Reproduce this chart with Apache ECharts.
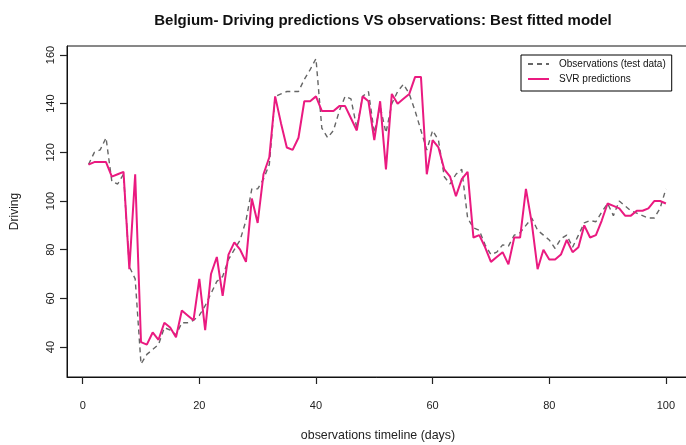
<!DOCTYPE html>
<html>
<head>
<meta charset="utf-8">
<script src="https://cdn.jsdelivr.net/npm/echarts@6/dist/echarts.min.js"></script>
<style>
html,body{margin:0;padding:0;background:#fff;}
#chart{width:686px;height:445px;}
</style>
</head>
<body>
<div id="chart"></div>
<script>
const days = [1,2,3,4,5,6,7,8,9,10,11,12,13,14,15,16,17,18,19,20,21,22,23,24,25,26,27,28,29,30,31,32,33,34,35,36,37,38,39,40,41,42,43,44,45,46,47,48,49,50,51,52,53,54,55,56,57,58,59,60,61,62,63,64,65,66,67,68,69,70,71,72,73,74,75,76,77,78,79,80,81,82,83,84,85,86,87,88,89,90,91,92,93,94,95,96,97,98,99,100];
const observations = [
 115,120,121,126,108,107,111,73,68,33,
 37,39,41,48,47,45,50,50,51,53,
 57,62,67,69,76,80,84,92,105,105,
 109,115,143,144,145,145,145,150,154,158.5,
 130,126,129,137,143,142,130,143,145,128,
 139,128,140,145,148,144,137,129,121,129,
 125,110,107,111,113,93,89,88,82,78,
 79,82,81.5,86,87,90,93,88,86,84,
 80.5,84.5,86,81,86,91,92,91.5,95.5,99,
 94,100,98,96,95,94,93,93,97,105
];
const svrPredictions = [
 115,116,116,116,110,111,112,72,111,42,
 41,46,43,50,48,44,55,53,51,68,
 47,70,77,61,78,83,80,75,101,91,
 111,118,143,132,122,121,126,141,141,143,
 137,137,137,139,139,134,129,143,141,125,
 141,113,144,140,142,144,151,151,111,125,
 122,113,110,102,109,112,85,86,81,75,
 77,79,74,85,85,105,91,72,80,76,
 76,78,84,79,81,90,85,86,92,99,
 98,97,94,94,96,96,97,100,100,99
];
const xTicks = [0,20,40,60,80,100];
const yTicks = [40,60,80,100,120,140,160];
const seriesNames = ['Observations (test data)', 'SVR predictions'];
const titleText = 'Belgium- Driving predictions VS observations: Best fitted model';
const xName = 'observations timeline (days)';
const yName = 'Driving';

const chart = echarts.init(document.getElementById('chart'), null, {renderer: 'canvas'});
const font = '"Liberation Sans", Arial, sans-serif';
chart.setOption({
  animation: false,
  backgroundColor: '#fff',
  textStyle: {fontFamily: font},
  title: {
    text: titleText,
    left: 378, top: 8, textAlign: 'center',
    textStyle: {fontFamily: font, fontWeight: 'bold', fontSize: 15, color: '#111'}
  },
  legend: {
    orient: 'vertical',
    left: 521, top: 55,
    padding: [4, 6, 7, 6],
    itemGap: 5,
    itemWidth: 21, itemHeight: 10,
    borderColor: '#000', borderWidth: 1,
    itemStyle: {opacity: 0},
    textStyle: {fontFamily: font, fontSize: 10, color: '#111', lineHeight: 10, padding: [0,0,0,5]},
    data: seriesNames
  },
  grid: {
    left: 67, right: -3, top: 46, bottom: 68,
    containLabel: false, outerBoundsMode: 'none',
    show: true, borderColor: '#111', borderWidth: 1, backgroundColor: 'transparent'
  },
  xAxis: {
    type: 'value', min: -2.69, max: 103.96,
    name: xName, nameLocation: 'middle', nameGap: 53,
    nameTextStyle: {fontFamily: font, fontSize: 12.4, color: '#222'},
    axisLine: {show: true, onZero: false, lineStyle: {color: '#111', width: 1}},
    splitLine: {show: false},
    axisTick: {show: true, length: 7, inside: false, customValues: xTicks, lineStyle: {color: '#222', width: 1.2}},
    axisLabel: {customValues: xTicks, margin: 23, fontFamily: font, fontSize: 11, color: '#222'}
  },
  yAxis: {
    type: 'value', min: 27.7, max: 163.7,
    position: 'left',
    name: yName, nameLocation: 'middle', nameGap: 46, nameRotate: 90,
    nameTextStyle: {fontFamily: font, fontSize: 12, color: '#222'},
    axisLine: {show: true, onZero: false, lineStyle: {color: '#111', width: 1}},
    splitLine: {show: false},
    axisTick: {show: true, length: 7, inside: false, customValues: yTicks, lineStyle: {color: '#222', width: 1.2}},
    axisLabel: {customValues: yTicks, rotate: 90, margin: 11, fontFamily: font, fontSize: 11, color: '#222'}
  },
  series: [
    {
      name: seriesNames[0], type: 'line', symbol: 'none',
      data: days.map((d, i) => [d, observations[i]]),
      lineStyle: {color: '#666666', width: 1.4, type: [5, 4]},
      itemStyle: {color: '#666666'},
      z: 2
    },
    {
      name: seriesNames[1], type: 'line', symbol: 'none',
      data: days.map((d, i) => [d, svrPredictions[i]]),
      lineStyle: {color: '#ea1a80', width: 2},
      itemStyle: {color: '#ea1a80'},
      z: 3
    }
  ]
});
</script>
</body>
</html>
